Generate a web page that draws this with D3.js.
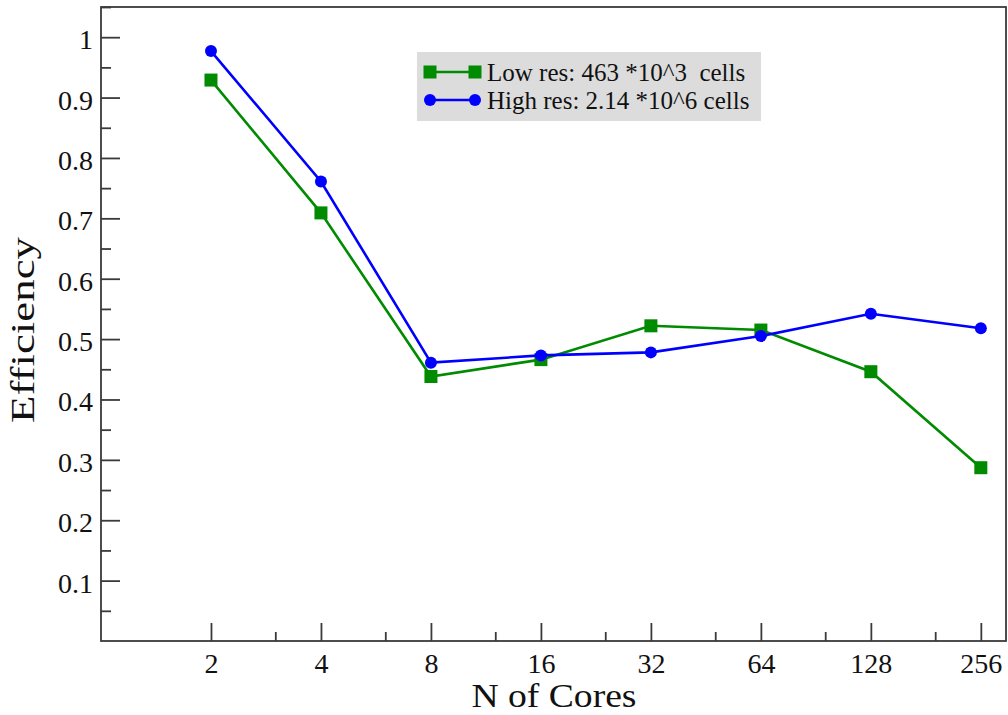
<!DOCTYPE html>
<html>
<head>
<meta charset="utf-8">
<script src="https://cdn.jsdelivr.net/npm/d3@7"></script>
<style>
html,body{margin:0;padding:0;background:#fff;}
svg text{font-family:"Liberation Serif","Times New Roman",serif !important;}
</style>
</head>
<body>
<svg id="chart" width="1008" height="715"></svg>
<script>
const cores = [2, 4, 8, 16, 32, 64, 128, 256];
const lowRes = [0.929, 0.709, 0.438, 0.466, 0.522, 0.515, 0.446, 0.287];
const highRes = [0.977, 0.761, 0.461, 0.473, 0.478, 0.505, 0.542, 0.518];
const minorX = [3, 6, 12, 24, 48, 96, 192];
const yTicks = [0.1, 0.2, 0.3, 0.4, 0.5, 0.6, 0.7, 0.8, 0.9, 1];
const yMinor = [0.05, 0.15, 0.25, 0.35, 0.45, 0.55, 0.65, 0.75, 0.85, 0.95, 1.05];
const seriesNames = ["Low res: 463 *10^3  cells", "High res: 2.14 *10^6 cells"];
const seriesColors = ["#008b00", "#0000ff"];

const svg = d3.select("#chart");
const L = 101, R = 1006, T = 7, B = 641;
const x = d3.scaleLog().base(2).domain([1, 300]).range([L, R]);
const y = d3.scaleLinear().domain([0, 1.05]).range([B, T]);
const axisColor = "#3a3a3a";

// frame
svg.append("rect").attr("x", L).attr("y", T).attr("width", R - L).attr("height", B - T)
  .attr("fill", "none").attr("stroke", axisColor).attr("stroke-width", 1.8);

// x axis (ticks inward)
const xAxis = svg.append("g").attr("transform", `translate(0,${B})`)
  .call(d3.axisBottom(x).tickValues(cores).tickFormat(d3.format("d")).tickSizeInner(-18).tickSizeOuter(0).tickPadding(0));
xAxis.attr("font-family", null);
xAxis.select(".domain").remove();
xAxis.selectAll(".tick line").attr("stroke", axisColor).attr("stroke-width", 1.8);
xAxis.selectAll(".tick text").attr("y", 32).attr("dy", 0).attr("font-size", 28).attr("fill", "#111");
const xMinorG = svg.append("g").attr("transform", `translate(0,${B})`)
  .call(d3.axisBottom(x).tickValues(minorX).tickFormat("").tickSizeInner(-9).tickSizeOuter(0));
xMinorG.select(".domain").remove();
xMinorG.selectAll(".tick line").attr("stroke", axisColor).attr("stroke-width", 1.8);

// y axis
const yAxis = svg.append("g").attr("transform", `translate(${L},0)`)
  .call(d3.axisLeft(y).tickValues(yTicks).tickFormat(d => d3.format("")(d)).tickSizeInner(-19).tickSizeOuter(0).tickPadding(0));
yAxis.attr("font-family", null);
yAxis.select(".domain").remove();
yAxis.selectAll(".tick line").attr("stroke", axisColor).attr("stroke-width", 1.8);
yAxis.selectAll(".tick text").attr("x", -8).attr("dy", "11.5").attr("font-size", 28).attr("fill", "#111");
const yMinorG = svg.append("g").attr("transform", `translate(${L},0)`)
  .call(d3.axisLeft(y).tickValues(yMinor).tickFormat("").tickSizeInner(-10).tickSizeOuter(0));
yMinorG.select(".domain").remove();
yMinorG.selectAll(".tick line").attr("stroke", axisColor).attr("stroke-width", 1.8);

// axis titles
svg.append("text").attr("x", 554).attr("y", 707).attr("text-anchor", "middle")
  .attr("font-size", 33).attr("fill", "#111")
  .attr("textLength", 165).attr("lengthAdjust", "spacingAndGlyphs").text("N of Cores");
svg.append("text").attr("transform", "translate(34,330) rotate(-90)").attr("text-anchor", "middle")
  .attr("font-size", 33).attr("fill", "#111")
  .attr("textLength", 186).attr("lengthAdjust", "spacingAndGlyphs").text("Efficiency");

// series
const allSeries = [lowRes, highRes];
const line = d3.line().x((d, i) => x(cores[i])).y(d => y(d));
allSeries.forEach((vals, si) => {
  const g = svg.append("g");
  g.append("path").datum(vals).attr("d", line).attr("fill", "none")
    .attr("stroke", seriesColors[si]).attr("stroke-width", 2.6);
  if (si === 0) {
    g.selectAll("rect").data(vals).join("rect")
      .attr("x", (d, i) => x(cores[i]) - 6.5).attr("y", d => y(d) - 6.5)
      .attr("width", 13).attr("height", 13).attr("fill", seriesColors[si]);
  } else {
    g.selectAll("circle").data(vals).join("circle")
      .attr("cx", (d, i) => x(cores[i])).attr("cy", d => y(d)).attr("r", 6)
      .attr("fill", seriesColors[si]);
  }
});

// legend
const lg = svg.append("g");
lg.append("rect").attr("x", 417).attr("y", 52).attr("width", 344).attr("height", 69).attr("fill", "#dcdcdc");
const rowsY = [72, 100];
seriesNames.forEach((name, si) => {
  const yy = rowsY[si];
  lg.append("line").attr("x1", 430).attr("x2", 475).attr("y1", yy).attr("y2", yy)
    .attr("stroke", seriesColors[si]).attr("stroke-width", 2.6);
  [430, 475].forEach(xx => {
    if (si === 0) lg.append("rect").attr("x", xx - 6.5).attr("y", yy - 6.5).attr("width", 13).attr("height", 13).attr("fill", seriesColors[si]);
    else lg.append("circle").attr("cx", xx).attr("cy", yy).attr("r", 6).attr("fill", seriesColors[si]);
  });
  lg.append("text").attr("x", 487).attr("y", yy + 9).attr("font-size", 25).attr("fill", "#111")
    .style("white-space", "pre").text(name);
});
</script>
</body>
</html>
